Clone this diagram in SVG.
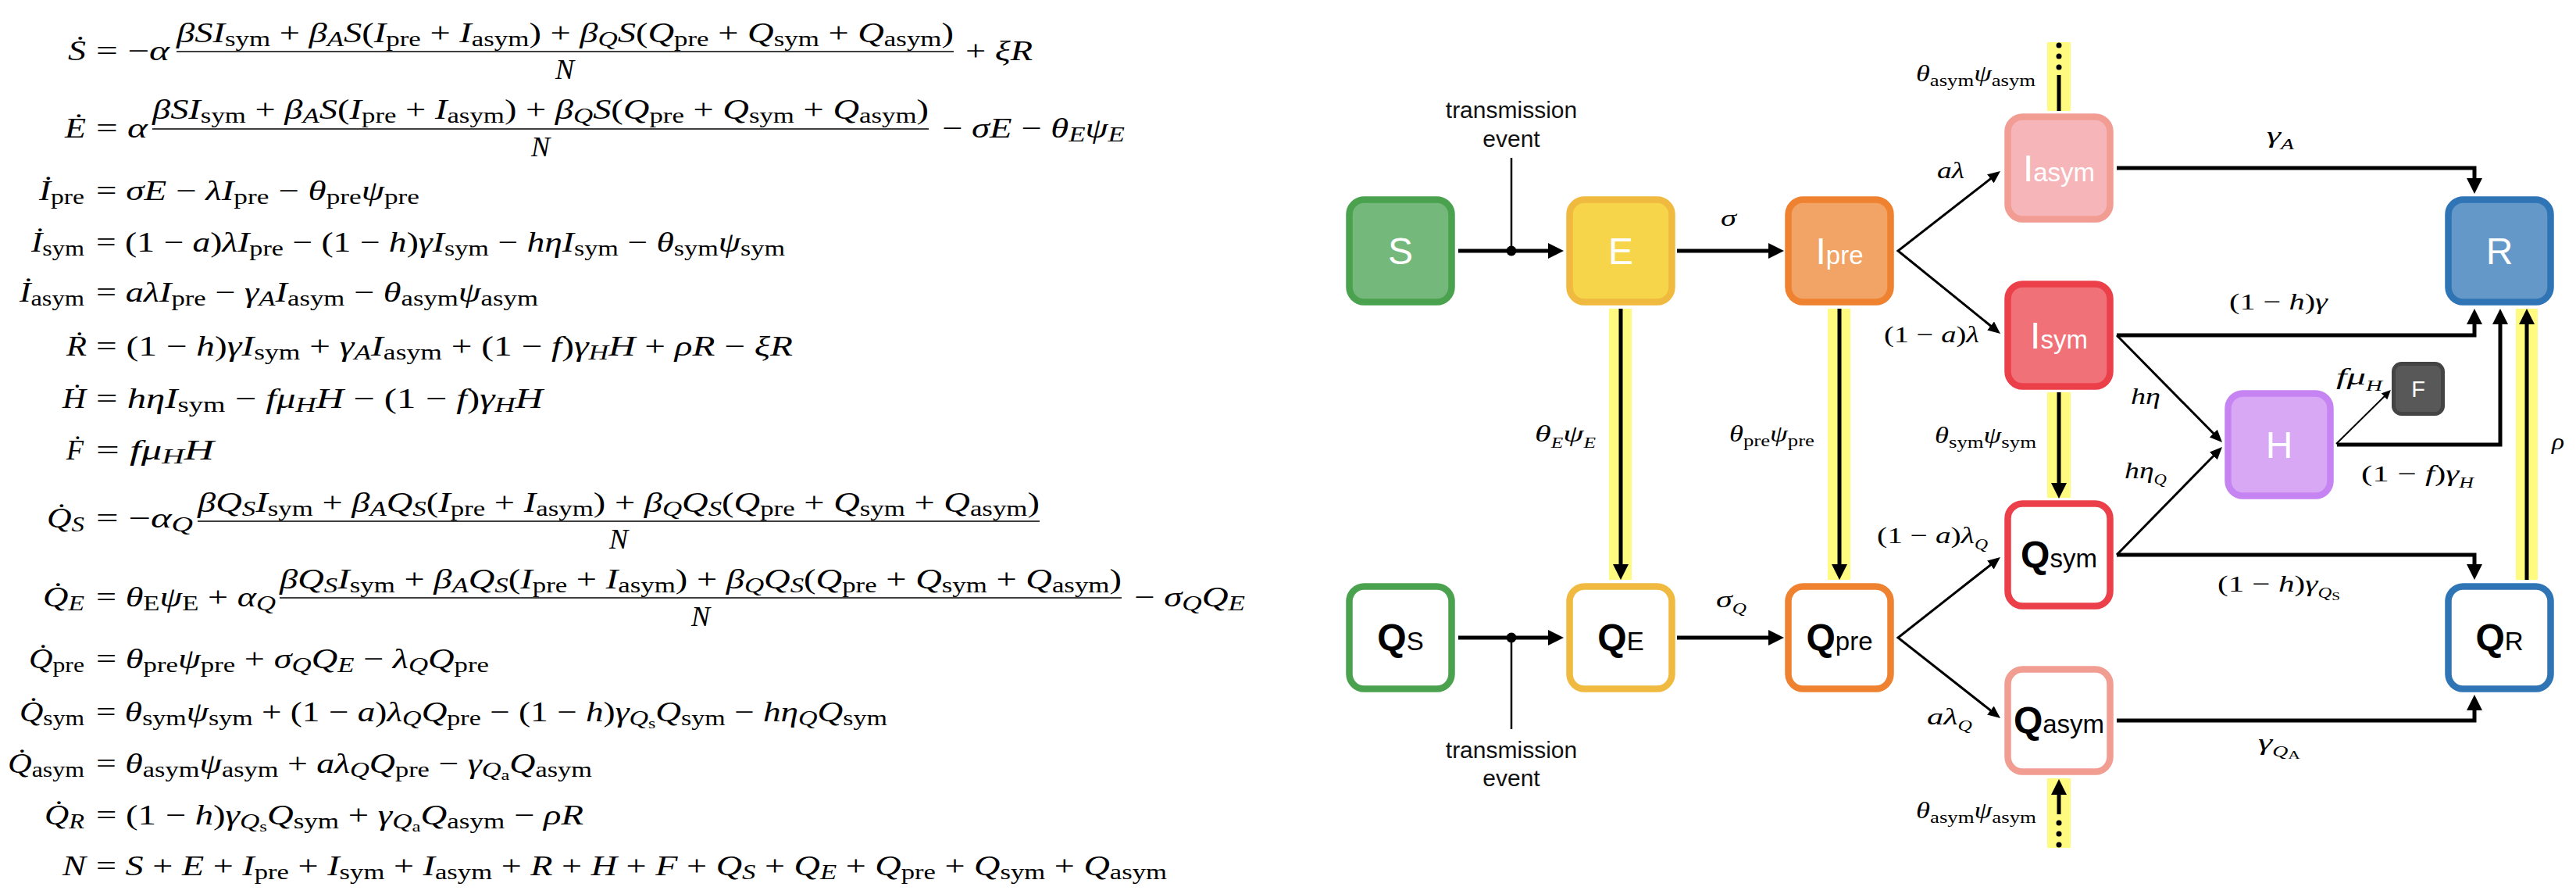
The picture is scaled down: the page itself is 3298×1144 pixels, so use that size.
<svg xmlns="http://www.w3.org/2000/svg" width="3298" height="1144" viewBox="0 0 3298 1144">
<style>
.eq{font-family:"Liberation Serif","Times New Roman",serif;font-size:36px;font-style:italic;fill:#000}
.u{font-style:normal}
.b{font-size:27px;font-style:normal;baseline-shift:-5px}
.i{font-size:27px;font-style:italic;baseline-shift:-5px}
.bb{font-size:19px;font-style:normal;baseline-shift:-4px}
.ml{font-family:"Liberation Serif","Times New Roman",serif;font-size:30px;font-style:italic;fill:#000}
.ml .b{font-size:22px;baseline-shift:-6px}
.ml .i{font-size:18px;baseline-shift:-8px}
.ml .bb{font-size:14px;baseline-shift:-3px}
.frac{stroke:#000;stroke-width:1.7}
.box{stroke-width:8.5}
.nw{font-family:"Liberation Sans",Arial,sans-serif;font-size:48px;fill:#fff;text-anchor:middle}
.nb{font-family:"Liberation Sans",Arial,sans-serif;font-size:48px;font-weight:bold;fill:#000;text-anchor:middle}
.sub{font-size:33px;font-weight:normal}
.tx{font-family:"Liberation Sans",Arial,sans-serif;font-size:30px;fill:#111;text-anchor:middle}
.thick{fill:none;stroke:#000;stroke-width:5}
.thin{fill:none;stroke:#000;stroke-width:3;stroke-linejoin:miter}
.hair{fill:none;stroke:#000;stroke-width:2.5}
.hl{fill:#FFFB80}
</style>
<defs>
<marker id="ab" markerUnits="userSpaceOnUse" markerWidth="22" markerHeight="22" refX="10" refY="10" orient="auto"><path d="M0,0 L20,10 L0,20 z" fill="#000"/></marker>
<marker id="as" markerUnits="userSpaceOnUse" markerWidth="18" markerHeight="16" refX="8" refY="7" orient="auto-start-reverse"><path d="M0,0 L16,7 L0,14 z" fill="#000"/></marker>
<marker id="at" markerUnits="userSpaceOnUse" markerWidth="14" markerHeight="12" refX="6" refY="5.5" orient="auto"><path d="M0,0 L12,5.5 L0,11 z" fill="#000"/></marker>
</defs>
<rect width="3298" height="1144" fill="#fff"/>

<g id="equations">
<text class="eq" x="87" y="77" textLength="23" lengthAdjust="spacingAndGlyphs">Ṡ</text>
<text class="eq" x="123" y="77" textLength="94" lengthAdjust="spacingAndGlyphs"><tspan class="u">= −</tspan>α</text>
<text class="eq" x="226" y="54" textLength="995" lengthAdjust="spacingAndGlyphs">βSI<tspan class="b">sym</tspan> <tspan class="u">+</tspan> β<tspan class="i">A</tspan>S<tspan class="u">(</tspan>I<tspan class="b">pre</tspan> <tspan class="u">+</tspan> I<tspan class="b">asym</tspan><tspan class="u">) +</tspan> β<tspan class="i">Q</tspan>S<tspan class="u">(</tspan>Q<tspan class="b">pre</tspan> <tspan class="u">+</tspan> Q<tspan class="b">sym</tspan> <tspan class="u">+</tspan> Q<tspan class="b">asym</tspan><tspan class="u">)</tspan></text>
<line class="frac" x1="226" y1="66" x2="1221" y2="66"/>
<text class="eq" x="723" y="101" text-anchor="middle">N</text>
<text class="eq" x="1236" y="77" textLength="86" lengthAdjust="spacingAndGlyphs"><tspan class="u">+</tspan> ξR</text>

<text class="eq" x="83" y="176" textLength="27" lengthAdjust="spacingAndGlyphs">Ė</text>
<text class="eq" x="123" y="176" textLength="66" lengthAdjust="spacingAndGlyphs"><tspan class="u">=</tspan> α</text>
<text class="eq" x="195" y="152" textLength="994" lengthAdjust="spacingAndGlyphs">βSI<tspan class="b">sym</tspan> <tspan class="u">+</tspan> β<tspan class="i">A</tspan>S<tspan class="u">(</tspan>I<tspan class="b">pre</tspan> <tspan class="u">+</tspan> I<tspan class="b">asym</tspan><tspan class="u">) +</tspan> β<tspan class="i">Q</tspan>S<tspan class="u">(</tspan>Q<tspan class="b">pre</tspan> <tspan class="u">+</tspan> Q<tspan class="b">sym</tspan> <tspan class="u">+</tspan> Q<tspan class="b">asym</tspan><tspan class="u">)</tspan></text>
<line class="frac" x1="195" y1="165" x2="1189" y2="165"/>
<text class="eq" x="692" y="200" text-anchor="middle">N</text>
<text class="eq" x="1206" y="176" textLength="234" lengthAdjust="spacingAndGlyphs"><tspan class="u">−</tspan> σE <tspan class="u">−</tspan> θ<tspan class="i">E</tspan>ψ<tspan class="i">E</tspan></text>

<text class="eq" x="50" y="256" textLength="58" lengthAdjust="spacingAndGlyphs">İ<tspan class="b">pre</tspan></text>
<text class="eq" x="123" y="256" textLength="414" lengthAdjust="spacingAndGlyphs"><tspan class="u">=</tspan> σE <tspan class="u">−</tspan> λI<tspan class="b">pre</tspan> <tspan class="u">−</tspan> θ<tspan class="b">pre</tspan>ψ<tspan class="b">pre</tspan></text>

<text class="eq" x="40" y="322" textLength="68" lengthAdjust="spacingAndGlyphs">İ<tspan class="b">sym</tspan></text>
<text class="eq" x="123" y="322" textLength="882" lengthAdjust="spacingAndGlyphs"><tspan class="u">= (1 −</tspan> a<tspan class="u">)</tspan>λI<tspan class="b">pre</tspan> <tspan class="u">− (1 −</tspan> h<tspan class="u">)</tspan>γI<tspan class="b">sym</tspan> <tspan class="u">−</tspan> hηI<tspan class="b">sym</tspan> <tspan class="u">−</tspan> θ<tspan class="b">sym</tspan>ψ<tspan class="b">sym</tspan></text>

<text class="eq" x="25" y="386" textLength="83" lengthAdjust="spacingAndGlyphs">İ<tspan class="b">asym</tspan></text>
<text class="eq" x="123" y="386" textLength="566" lengthAdjust="spacingAndGlyphs"><tspan class="u">=</tspan> aλI<tspan class="b">pre</tspan> <tspan class="u">−</tspan> γ<tspan class="i">A</tspan>I<tspan class="b">asym</tspan> <tspan class="u">−</tspan> θ<tspan class="b">asym</tspan>ψ<tspan class="b">asym</tspan></text>

<text class="eq" x="85" y="455" textLength="26" lengthAdjust="spacingAndGlyphs">Ṙ</text>
<text class="eq" x="123" y="455" textLength="892" lengthAdjust="spacingAndGlyphs"><tspan class="u">= (1 −</tspan> h<tspan class="u">)</tspan>γI<tspan class="b">sym</tspan> <tspan class="u">+</tspan> γ<tspan class="i">A</tspan>I<tspan class="b">asym</tspan> <tspan class="u">+ (1 −</tspan> f<tspan class="u">)</tspan>γ<tspan class="i">H</tspan>H <tspan class="u">+</tspan> ρR <tspan class="u">−</tspan> ξR</text>

<text class="eq" x="80" y="522" textLength="30" lengthAdjust="spacingAndGlyphs">Ḣ</text>
<text class="eq" x="123" y="522" textLength="572" lengthAdjust="spacingAndGlyphs"><tspan class="u">=</tspan> hηI<tspan class="b">sym</tspan> <tspan class="u">−</tspan> fμ<tspan class="i">H</tspan>H <tspan class="u">− (1 −</tspan> f<tspan class="u">)</tspan>γ<tspan class="i">H</tspan>H</text>

<text class="eq" x="85" y="588" textLength="22" lengthAdjust="spacingAndGlyphs">Ḟ</text>
<text class="eq" x="123" y="588" textLength="151" lengthAdjust="spacingAndGlyphs"><tspan class="u">=</tspan> fμ<tspan class="i">H</tspan>H</text>

<text class="eq" x="60" y="675" textLength="48" lengthAdjust="spacingAndGlyphs">Q&#x307;<tspan class="i">S</tspan></text>
<text class="eq" x="123" y="675" textLength="124" lengthAdjust="spacingAndGlyphs"><tspan class="u">= −</tspan>α<tspan class="i">Q</tspan></text>
<text class="eq" x="253" y="655" textLength="1078" lengthAdjust="spacingAndGlyphs">βQ<tspan class="i">S</tspan>I<tspan class="b">sym</tspan> <tspan class="u">+</tspan> β<tspan class="i">A</tspan>Q<tspan class="i">S</tspan><tspan class="u">(</tspan>I<tspan class="b">pre</tspan> <tspan class="u">+</tspan> I<tspan class="b">asym</tspan><tspan class="u">) +</tspan> β<tspan class="i">Q</tspan>Q<tspan class="i">S</tspan><tspan class="u">(</tspan>Q<tspan class="b">pre</tspan> <tspan class="u">+</tspan> Q<tspan class="b">sym</tspan> <tspan class="u">+</tspan> Q<tspan class="b">asym</tspan><tspan class="u">)</tspan></text>
<line class="frac" x1="253" y1="667" x2="1331" y2="667"/>
<text class="eq" x="792" y="702" text-anchor="middle">N</text>

<text class="eq" x="55" y="776" textLength="53" lengthAdjust="spacingAndGlyphs">Q&#x307;<tspan class="i">E</tspan></text>
<text class="eq" x="123" y="776" textLength="230" lengthAdjust="spacingAndGlyphs"><tspan class="u">=</tspan> θ<tspan class="b">E</tspan>ψ<tspan class="b">E</tspan> <tspan class="u">+</tspan> α<tspan class="i">Q</tspan></text>
<text class="eq" x="358" y="753" textLength="1078" lengthAdjust="spacingAndGlyphs">βQ<tspan class="i">S</tspan>I<tspan class="b">sym</tspan> <tspan class="u">+</tspan> β<tspan class="i">A</tspan>Q<tspan class="i">S</tspan><tspan class="u">(</tspan>I<tspan class="b">pre</tspan> <tspan class="u">+</tspan> I<tspan class="b">asym</tspan><tspan class="u">) +</tspan> β<tspan class="i">Q</tspan>Q<tspan class="i">S</tspan><tspan class="u">(</tspan>Q<tspan class="b">pre</tspan> <tspan class="u">+</tspan> Q<tspan class="b">sym</tspan> <tspan class="u">+</tspan> Q<tspan class="b">asym</tspan><tspan class="u">)</tspan></text>
<line class="frac" x1="358" y1="765" x2="1436" y2="765"/>
<text class="eq" x="897" y="801" text-anchor="middle">N</text>
<text class="eq" x="1452" y="776" textLength="142" lengthAdjust="spacingAndGlyphs"><tspan class="u">−</tspan> σ<tspan class="i">Q</tspan>Q<tspan class="i">E</tspan></text>

<text class="eq" x="37" y="855" textLength="71" lengthAdjust="spacingAndGlyphs">Q&#x307;<tspan class="b">pre</tspan></text>
<text class="eq" x="123" y="855" textLength="503" lengthAdjust="spacingAndGlyphs"><tspan class="u">=</tspan> θ<tspan class="b">pre</tspan>ψ<tspan class="b">pre</tspan> <tspan class="u">+</tspan> σ<tspan class="i">Q</tspan>Q<tspan class="i">E</tspan> <tspan class="u">−</tspan> λ<tspan class="i">Q</tspan>Q<tspan class="b">pre</tspan></text>

<text class="eq" x="25" y="923" textLength="83" lengthAdjust="spacingAndGlyphs">Q&#x307;<tspan class="b">sym</tspan></text>
<text class="eq" x="123" y="923" textLength="1013" lengthAdjust="spacingAndGlyphs"><tspan class="u">=</tspan> θ<tspan class="b">sym</tspan>ψ<tspan class="b">sym</tspan> <tspan class="u">+ (1 −</tspan> a<tspan class="u">)</tspan>λ<tspan class="i">Q</tspan>Q<tspan class="b">pre</tspan> <tspan class="u">− (1 −</tspan> h<tspan class="u">)</tspan>γ<tspan class="i">Q<tspan class="bb">s</tspan></tspan>Q<tspan class="b">sym</tspan> <tspan class="u">−</tspan> hη<tspan class="i">Q</tspan>Q<tspan class="b">sym</tspan></text>

<text class="eq" x="10" y="989" textLength="98" lengthAdjust="spacingAndGlyphs">Q&#x307;<tspan class="b">asym</tspan></text>
<text class="eq" x="123" y="989" textLength="635" lengthAdjust="spacingAndGlyphs"><tspan class="u">=</tspan> θ<tspan class="b">asym</tspan>ψ<tspan class="b">asym</tspan> <tspan class="u">+</tspan> aλ<tspan class="i">Q</tspan>Q<tspan class="b">pre</tspan> <tspan class="u">−</tspan> γ<tspan class="i">Q<tspan class="bb">a</tspan></tspan>Q<tspan class="b">asym</tspan></text>

<text class="eq" x="57" y="1055" textLength="51" lengthAdjust="spacingAndGlyphs">Q&#x307;<tspan class="i">R</tspan></text>
<text class="eq" x="123" y="1055" textLength="624" lengthAdjust="spacingAndGlyphs"><tspan class="u">= (1 −</tspan> h<tspan class="u">)</tspan>γ<tspan class="i">Q<tspan class="bb">s</tspan></tspan>Q<tspan class="b">sym</tspan> <tspan class="u">+</tspan> γ<tspan class="i">Q<tspan class="bb">a</tspan></tspan>Q<tspan class="b">asym</tspan> <tspan class="u">−</tspan> ρR</text>

<text class="eq" x="80" y="1120" textLength="30" lengthAdjust="spacingAndGlyphs">N</text>
<text class="eq" x="123" y="1120" textLength="1371" lengthAdjust="spacingAndGlyphs"><tspan class="u">=</tspan> S <tspan class="u">+</tspan> E <tspan class="u">+</tspan> I<tspan class="b">pre</tspan> <tspan class="u">+</tspan> I<tspan class="b">sym</tspan> <tspan class="u">+</tspan> I<tspan class="b">asym</tspan> <tspan class="u">+</tspan> R <tspan class="u">+</tspan> H <tspan class="u">+</tspan> F <tspan class="u">+</tspan> Q<tspan class="i">S</tspan> <tspan class="u">+</tspan> Q<tspan class="i">E</tspan> <tspan class="u">+</tspan> Q<tspan class="b">pre</tspan> <tspan class="u">+</tspan> Q<tspan class="b">sym</tspan> <tspan class="u">+</tspan> Q<tspan class="b">asym</tspan></text>
</g>

<g id="connectors">
<rect class="hl" x="2060" y="395" width="29" height="347"/>
<rect class="hl" x="2340" y="395" width="29" height="347"/>
<rect class="hl" x="2621" y="502" width="30" height="135"/>
<rect class="hl" x="2621" y="54" width="30" height="88"/>
<rect class="hl" x="2621" y="996" width="30" height="89"/>
<rect class="hl" x="3221" y="395" width="28" height="347"/>

<path class="thick" d="M1867,321 H1992" marker-end="url(#ab)"/>
<path class="thick" d="M2147,321 H2274" marker-end="url(#ab)"/>
<path class="thick" d="M1867,816 H1992" marker-end="url(#ab)"/>
<path class="thick" d="M2147,816 H2274" marker-end="url(#ab)"/>
<path class="hair" d="M1935,202 V321"/>
<circle cx="1935" cy="321" r="6.5" fill="#000"/>
<path class="hair" d="M1935,816 V933"/>
<circle cx="1935" cy="816" r="6.5" fill="#000"/>

<path class="thin" d="M2554.7,223.9 L2430,321 L2554.8,422" marker-start="url(#as)" marker-end="url(#as)"/>
<path class="thin" d="M2554.7,718 L2430,816 L2554.7,914" marker-start="url(#as)" marker-end="url(#as)"/>
<path class="thin" d="M2710,429 L2839.4,560.3" marker-end="url(#as)"/>
<path class="thin" d="M2710,710 L2839.4,577.7" marker-end="url(#as)"/>
<path fill="none" stroke="#000" stroke-width="2" d="M2991,568 L3056.7,503.2" marker-end="url(#at)"/>

<path class="thick" d="M2710,215 H3168 V238" marker-end="url(#ab)"/>
<path class="thick" d="M2710,429 H3168 V405" marker-end="url(#ab)"/>
<path class="thick" d="M2992,569 H3201 V405" marker-end="url(#ab)"/>
<path class="thick" d="M2710,710 H3168 V732" marker-end="url(#ab)"/>
<path class="thick" d="M2710,922 H3168 V899" marker-end="url(#ab)"/>

<path class="thick" d="M2075,395 V732" marker-end="url(#ab)"/>
<path class="thick" d="M2355,395 V732" marker-end="url(#ab)"/>
<path class="thick" d="M2636,502 V628" marker-end="url(#ab)"/>
<path class="thick" d="M3235,742 V405" marker-end="url(#ab)"/>
<path class="thick" d="M2636,142 V96"/>
<circle cx="2636" cy="58" r="3.5" fill="#000"/>
<circle cx="2636" cy="72" r="3.5" fill="#000"/>
<circle cx="2636" cy="86" r="3.5" fill="#000"/>
<path class="thick" d="M2636,1042 V1007" marker-end="url(#ab)"/>
<circle cx="2636" cy="1053" r="3.5" fill="#000"/>
<circle cx="2636" cy="1067" r="3.5" fill="#000"/>
<circle cx="2636" cy="1081" r="3.5" fill="#000"/>

<text class="tx" x="1935" y="151">transmission</text>
<text class="tx" x="1935" y="188">event</text>
<text class="tx" x="1935" y="970">transmission</text>
<text class="tx" x="1935" y="1006">event</text>

<text class="ml" x="2203" y="289" textLength="20" lengthAdjust="spacingAndGlyphs">σ</text>
<text class="ml" x="2197" y="777" textLength="39" lengthAdjust="spacingAndGlyphs">σ<tspan class="i">Q</tspan></text>
<text class="ml" x="1965" y="565" textLength="78" lengthAdjust="spacingAndGlyphs">θ<tspan class="i">E</tspan>ψ<tspan class="i">E</tspan></text>
<text class="ml" x="2214" y="565" textLength="109" lengthAdjust="spacingAndGlyphs">θ<tspan class="b">pre</tspan>ψ<tspan class="b">pre</tspan></text>
<text class="ml" x="2477" y="567" textLength="130" lengthAdjust="spacingAndGlyphs">θ<tspan class="b">sym</tspan>ψ<tspan class="b">sym</tspan></text>
<text class="ml" x="2453" y="104" textLength="153" lengthAdjust="spacingAndGlyphs">θ<tspan class="b">asym</tspan>ψ<tspan class="b">asym</tspan></text>
<text class="ml" x="2453" y="1047" textLength="154" lengthAdjust="spacingAndGlyphs">θ<tspan class="b">asym</tspan>ψ<tspan class="b">asym</tspan></text>
<text class="ml" x="2480" y="228" textLength="35" lengthAdjust="spacingAndGlyphs">aλ</text>
<text class="ml" x="2412" y="438" textLength="122" lengthAdjust="spacingAndGlyphs"><tspan class="u">(1 −</tspan> a<tspan class="u">)</tspan>λ</text>
<text class="ml" x="2902" y="183" textLength="35" lengthAdjust="spacingAndGlyphs">γ<tspan class="i">A</tspan></text>
<text class="ml" x="2854" y="396" textLength="126" lengthAdjust="spacingAndGlyphs"><tspan class="u">(1 −</tspan> h<tspan class="u">)</tspan>γ</text>
<text class="ml" x="2728" y="517" textLength="38" lengthAdjust="spacingAndGlyphs">hη</text>
<text class="ml" x="2991" y="492" textLength="59" lengthAdjust="spacingAndGlyphs">fμ<tspan class="i">H</tspan></text>
<text class="ml" x="3267" y="575" textLength="16" lengthAdjust="spacingAndGlyphs">ρ</text>
<text class="ml" x="2720" y="612" textLength="54" lengthAdjust="spacingAndGlyphs">hη<tspan class="i">Q</tspan></text>
<text class="ml" x="3023" y="616" textLength="144" lengthAdjust="spacingAndGlyphs"><tspan class="u">(1 −</tspan> f<tspan class="u">)</tspan>γ<tspan class="i">H</tspan></text>
<text class="ml" x="2839" y="757" textLength="157" lengthAdjust="spacingAndGlyphs"><tspan class="u">(1 −</tspan> h<tspan class="u">)</tspan>γ<tspan class="i">Q<tspan class="bb">S</tspan></tspan></text>
<text class="ml" x="2891" y="960" textLength="54" lengthAdjust="spacingAndGlyphs">γ<tspan class="i">Q<tspan class="bb">A</tspan></tspan></text>
<text class="ml" x="2403" y="695" textLength="142" lengthAdjust="spacingAndGlyphs"><tspan class="u">(1 −</tspan> a<tspan class="u">)</tspan>λ<tspan class="i">Q</tspan></text>
<text class="ml" x="2467" y="927" textLength="58" lengthAdjust="spacingAndGlyphs">aλ<tspan class="i">Q</tspan></text>
</g>

<g id="node-S"><rect class="box" x="1727.5" y="255.5" width="131" height="131" rx="19" fill="#74B87C" stroke="#4AA24F"/><text class="nw" x="1793" y="338">S</text></g>
<g id="node-E"><rect class="box" x="2009.5" y="255.5" width="131" height="131" rx="19" fill="#F7D54A" stroke="#F0B93F"/><text class="nw" x="2075" y="338">E</text></g>
<g id="node-Ipre"><rect class="box" x="2289.5" y="255.5" width="131" height="131" rx="19" fill="#F2A366" stroke="#EF8230"/><text class="nw" x="2355" y="338">I<tspan class="sub">pre</tspan></text></g>
<g id="node-Iasym"><rect class="box" x="2570.5" y="149.5" width="131" height="131" rx="19" fill="#F6B6B9" stroke="#F19D93"/><text class="nw" x="2636" y="232">I<tspan class="sub">asym</tspan></text></g>
<g id="node-Isym"><rect class="box" x="2570.5" y="363.5" width="131" height="131" rx="19" fill="#F07178" stroke="#EB3F49"/><text class="nw" x="2636" y="446">I<tspan class="sub">sym</tspan></text></g>
<g id="node-R"><rect class="box" x="3134.5" y="255.5" width="131" height="131" rx="19" fill="#6498C8" stroke="#2F74B5"/><text class="nw" x="3200" y="338">R</text></g>
<g id="node-H"><rect class="box" x="2852.5" y="503.5" width="131" height="131" rx="19" fill="#D9A8F5" stroke="#C683F2"/><text class="nw" x="2918" y="586">H</text></g>
<g id="node-F"><rect x="3064.5" y="465.5" width="63" height="64" rx="10" fill="#585858" stroke="#444" stroke-width="5"/><text class="nw" x="3096" y="508" style="font-size:29px">F</text></g>
<g id="node-QS"><rect class="box" x="1727.5" y="750.5" width="131" height="131" rx="19" fill="#fff" stroke="#4AA24F"/><text class="nb" x="1793" y="832">Q<tspan class="sub">S</tspan></text></g>
<g id="node-QE"><rect class="box" x="2009.5" y="750.5" width="131" height="131" rx="19" fill="#fff" stroke="#F0B93F"/><text class="nb" x="2075" y="832">Q<tspan class="sub">E</tspan></text></g>
<g id="node-Qpre"><rect class="box" x="2289.5" y="750.5" width="131" height="131" rx="19" fill="#fff" stroke="#EF8230"/><text class="nb" x="2355" y="832">Q<tspan class="sub">pre</tspan></text></g>
<g id="node-Qsym"><rect class="box" x="2570.5" y="644.5" width="131" height="131" rx="19" fill="#fff" stroke="#EB3F49"/><text class="nb" x="2636" y="726">Q<tspan class="sub">sym</tspan></text></g>
<g id="node-Qasym"><rect class="box" x="2570.5" y="856.5" width="131" height="131" rx="19" fill="#fff" stroke="#F29D92"/><text class="nb" x="2636" y="938">Q<tspan class="sub">asym</tspan></text></g>
<g id="node-QR"><rect class="box" x="3134.5" y="750.5" width="131" height="131" rx="19" fill="#fff" stroke="#2F74B5"/><text class="nb" x="3200" y="832">Q<tspan class="sub">R</tspan></text></g>
</svg>
